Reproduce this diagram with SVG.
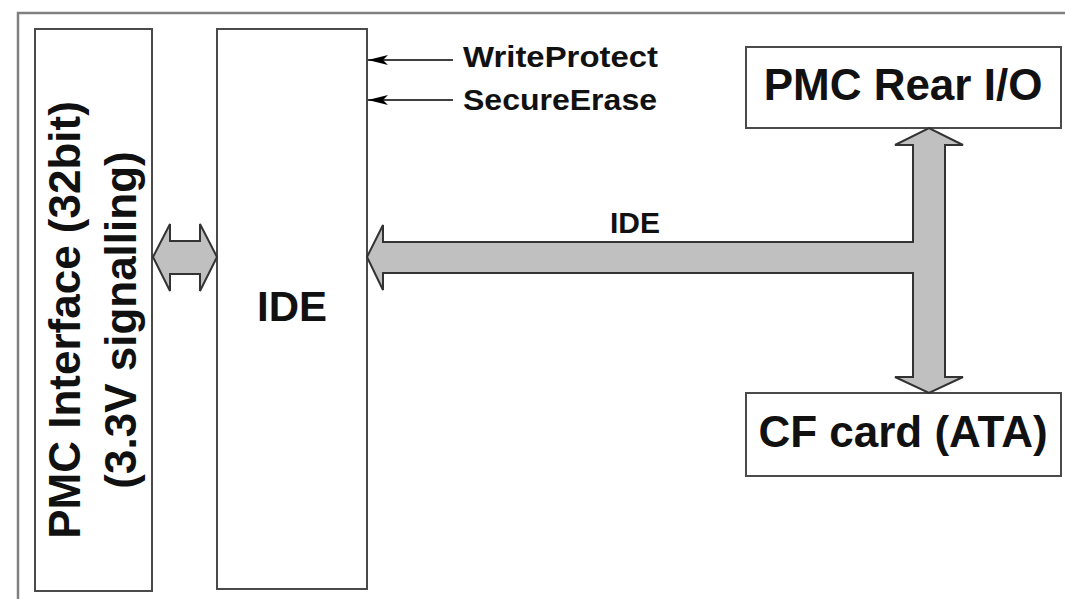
<svg xmlns="http://www.w3.org/2000/svg" width="1065" height="599" viewBox="0 0 1065 599">
  <style>
    .frame { fill: none; stroke: #808080; stroke-width: 2.5; }
    .box { fill: #ffffff; stroke: #4a4a4a; stroke-width: 2; }
    .bus { fill: #c0c0c0; stroke: #333333; stroke-width: 2; stroke-linejoin: miter; }
    .sig { stroke: #000000; stroke-width: 1.5; fill: none; }
    .lbl { font-family: "Liberation Sans", Arial, sans-serif; font-weight: bold; fill: #111111; }
  </style>
  <defs>
    <marker id="head" viewBox="0 0 20 10" refX="20" refY="5" markerWidth="20" markerHeight="10" markerUnits="userSpaceOnUse" orient="auto">
      <path d="M0,0 L20,5 L0,10 L5,5 Z" fill="#000000"/>
    </marker>
  </defs>

  <rect width="1065" height="599" fill="#ffffff"/>

  <!-- outer board frame -->
  <path class="frame" d="M1065,13 H18 V599"/>

  <!-- PMC host interface -->
  <g id="pmc-interface">
    <rect class="box" x="35" y="29" width="117" height="562"/>
    <text class="lbl" font-size="44" text-anchor="middle" transform="translate(80,320) rotate(-90)">PMC Interface (32bit)</text>
    <text class="lbl" font-size="44" text-anchor="middle" transform="translate(136,320) rotate(-90)">(3.3V signalling)</text>
  </g>

  <!-- IDE controller -->
  <g id="ide-controller">
    <rect class="box" x="217" y="29" width="150" height="560"/>
    <text class="lbl" font-size="42" x="292" y="321" text-anchor="middle">IDE</text>
  </g>

  <!-- rear I/O connector -->
  <g id="pmc-rear-io">
    <rect class="box" x="746" y="47" width="315" height="81"/>
    <text class="lbl" font-size="44" x="903" y="100" text-anchor="middle">PMC Rear I/O</text>
  </g>

  <!-- CompactFlash socket -->
  <g id="cf-card">
    <rect class="box" x="746" y="393" width="315" height="83"/>
    <text class="lbl" font-size="44" x="903" y="447" text-anchor="middle">CF card (ATA)</text>
  </g>

  <!-- buses and control signals -->
  <g id="connectors">
    <!-- PCI bus between host interface and controller -->
    <polygon class="bus" points="153,257 170,224 170,241 200,241 200,224 217,257 200,291 200,274 170,274 170,291"/>
    <!-- IDE bus branching to rear I/O and CF card -->
    <polygon class="bus" points="367,257 383,225 383,242 913,242 913,145 895,145 929,128 963,145 945,145 945,377 963,377 929,393 895,377 913,377 913,273 383,273 383,290"/>
    <text class="lbl" font-size="30" x="635" y="233" text-anchor="middle">IDE</text>

    <line class="sig" x1="453" y1="60" x2="368" y2="60" marker-end="url(#head)"/>
    <line class="sig" x1="453" y1="100" x2="368" y2="100" marker-end="url(#head)"/>
    <text class="lbl" font-size="30" x="463" y="67" textLength="195" lengthAdjust="spacingAndGlyphs">WriteProtect</text>
    <text class="lbl" font-size="30" x="463" y="110" textLength="194" lengthAdjust="spacingAndGlyphs">SecureErase</text>
  </g>
</svg>
